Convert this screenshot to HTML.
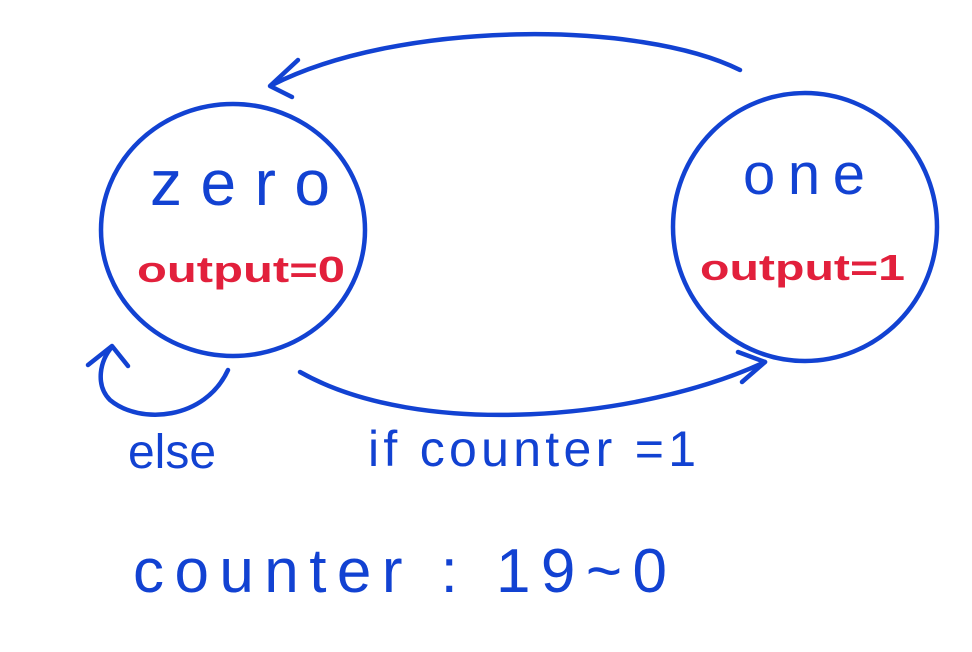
<!DOCTYPE html>
<html><head><style>
html,body{margin:0;padding:0;background:#fff;}
svg{display:block}
text{font-family:"Liberation Sans",sans-serif;}
</style></head><body>
<svg width="972" height="652" viewBox="0 0 972 652" xmlns="http://www.w3.org/2000/svg">
<g fill="none" stroke="#1242d2" stroke-width="4.5" stroke-linecap="round" stroke-linejoin="round">
<ellipse cx="233" cy="230" rx="132" ry="126"/>
<ellipse cx="805" cy="227" rx="132" ry="134"/>
<path d="M740 70 C640 20 400 20 272 85"/>
<path d="M298 60 L270 86 L292 97"/>
<path d="M300 372 C420 440 640 420 765 362"/>
<path d="M738 352 L765 362 L742 382"/>
<path d="M228 370 C205 420 140 425 110 400 C95 385 100 360 112 347"/>
<path d="M88 365 L112 346 L128 366"/>
</g>
<g fill="#1242d2">
<text x="150" y="205" font-size="64" textLength="180" lengthAdjust="spacing">zero</text>
<text x="743" y="194" font-size="58" textLength="122" lengthAdjust="spacing">one</text>
<text x="128" y="468" font-size="48" textLength="88" lengthAdjust="spacingAndGlyphs">else</text>
<text x="368" y="466" font-size="50" textLength="328" lengthAdjust="spacing">if counter =1</text>
<text x="133" y="592" font-size="62" textLength="534" lengthAdjust="spacing">counter : 19~0</text>
</g>
<g fill="#e2203c" font-weight="bold">
<text x="137" y="282" font-size="36" textLength="208" lengthAdjust="spacingAndGlyphs">output=0</text>
<text x="700" y="280" font-size="36" textLength="205" lengthAdjust="spacingAndGlyphs">output=1</text>
</g>
</svg>
</body></html>
